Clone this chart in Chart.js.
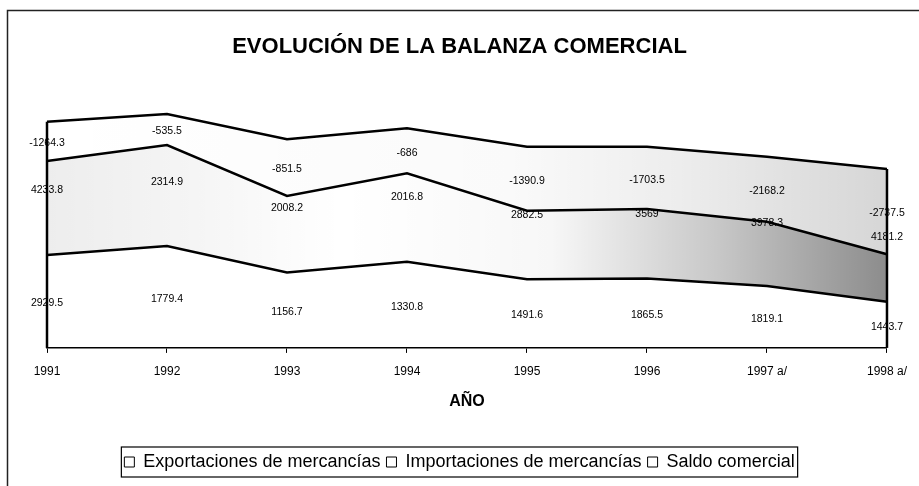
<!DOCTYPE html>
<html lang="es">
<head>
<meta charset="utf-8">
<title>Evolución de la balanza comercial</title>
<script src="https://cdn.jsdelivr.net/npm/chart.js@4.4.1/dist/chart.umd.min.js"></script>
<style>
  html, body { margin: 0; padding: 0; background: #fff; }
  canvas { display: block; }
</style>
</head>
<body>
<canvas id="grafico" width="919" height="486"></canvas>
<script>
'use strict'

// años del eje horizontal
let anios = ['1991', '1992', '1993', '1994', '1995', '1996', '1997 a/', '1998 a/'];

// cifras impresas sobre el grafico
let exportaciones = [2929.5, 1779.4, 1156.7, 1330.8, 1491.6, 1865.5, 1819.1, 1443.7];
let importaciones = [4233.8, 2314.9, 2008.2, 2016.8, 2882.5, 3569, 3978.3, 4181.2];
let saldo = [-1264.3, -535.5, -851.5, -686, -1390.9, -1703.5, -2168.2, -2737.5];

// alto de cada area tal como esta dibujada (el dibujo no sigue la escala de las cifras)
let areaExport = [1860, 2040, 1510, 1725, 1375, 1390, 1240, 925];
let areaImport = [2665, 2640, 2665, 2670, 2650, 2635, 2585, 2655];
let areaSaldo = [-785, -620, -1135, -900, -1280, -1245, -1300, -1705];

const fuente = "'Liberation Sans', Arial, Helvetica, sans-serif";
Chart.defaults.font.family = fuente;
Chart.defaults.color = '#000';

function degradado(chart, paradas) {
    let area = chart.chartArea;
    if (!area) return 'rgba(0,0,0,0)';
    let g = chart.ctx.createLinearGradient(area.left, 0, area.right, 0);
    paradas.forEach(p => g.addColorStop(p[0], p[1]));
    return g;
}

// marco del documento escaneado
const marco = {
    id: 'marco',
    beforeDraw(chart) {
        let c = chart.ctx;
        c.save();
        c.fillStyle = '#fff';
        c.fillRect(0, 0, chart.width, chart.height);
        c.strokeStyle = '#222';
        c.lineWidth = 1.5;
        c.beginPath();
        c.moveTo(7.5, chart.height);
        c.lineTo(7.5, 10.5);
        c.lineTo(chart.width, 10.5);
        c.stroke();
        c.restore();
    }
};

// etiquetas de datos, bordes laterales de las areas y recuadro de la leyenda
const etiquetas = {
    id: 'etiquetas',
    afterDatasetsDraw(chart) {
        let c = chart.ctx;
        let base = chart.scales.y.getPixelForValue(0);
        let pE = chart.getDatasetMeta(0).data;
        let pI = chart.getDatasetMeta(1).data;
        let pS = chart.getDatasetMeta(2).data;
        c.save();
        c.font = '10.5px ' + fuente;
        c.fillStyle = '#000';
        c.textAlign = 'center';
        c.textBaseline = 'middle';
        for (let i = 0; i < anios.length; i++) {
            let x = pE[i].x;
            c.fillText(String(exportaciones[i]), x, (base + pE[i].y) / 2 + 2);
            c.fillText(String(importaciones[i]), x, (pE[i].y + pI[i].y) / 2 + 2);
            c.fillText(String(saldo[i]), x, (pI[i].y + pS[i].y) / 2 + 2);
        }
        c.strokeStyle = '#000';
        c.lineWidth = 2.5;
        [0, anios.length - 1].forEach(i => {
            c.beginPath();
            c.moveTo(pI[i].x, pI[i].y);
            c.lineTo(pI[i].x, base);
            c.stroke();
        });
        c.restore();
    },
    afterDraw(chart) {
        let hb = chart.legend.legendHitBoxes;
        if (!hb || !hb.length) return;
        let c = chart.ctx;
        let ult = hb[hb.length - 1];
        let izq = hb[0].left - 3;
        let der = ult.left + ult.width + 3;
        let arriba = hb[0].top - 6;
        let abajo = hb[0].top + hb[0].height + 6;
        c.save();
        c.strokeStyle = '#000';
        c.lineWidth = 1.2;
        c.strokeRect(izq, arriba, der - izq, abajo - arriba);
        c.restore();
    }
};

new Chart(document.getElementById('grafico'), {
    type: 'line',
    data: {
        labels: anios,
        datasets: [{
            label: 'Exportaciones de mercancías',
            data: areaExport,
            fill: 2,
            backgroundColor: ctx => degradado(ctx.chart, [
                [0, 'rgba(0,0,0,0.07)'], [0.18, 'rgba(0,0,0,0.04)'], [0.35, 'rgba(0,0,0,0)'],
                [0.6, 'rgba(0,0,0,0.03)'], [0.8, 'rgba(0,0,0,0.22)'], [1, 'rgba(0,0,0,0.45)']
            ]),
            borderColor: '#000',
            borderWidth: 2.5
        }, {
            label: 'Importaciones de mercancías',
            data: areaImport,
            fill: false,
            backgroundColor: '#fff',
            borderColor: '#000',
            borderWidth: 2.5
        }, {
            label: 'Saldo comercial',
            data: areaSaldo,
            fill: '-1',
            backgroundColor: ctx => degradado(ctx.chart, [
                [0, 'rgba(0,0,0,0)'], [0.55, 'rgba(0,0,0,0.02)'], [0.75, 'rgba(0,0,0,0.07)'], [1, 'rgba(0,0,0,0.16)']
            ]),
            borderColor: '#000',
            borderWidth: 2.5
        }]
    },
    options: {
        responsive: false,
        animation: false,
        events: [],
        layout: { padding: { left: 0, right: 0, top: 0, bottom: 5 } },
        elements: { point: { radius: 0 }, line: { tension: 0 } },
        scales: {
            x: {
                offset: false,
                grid: { drawOnChartArea: false, drawTicks: true, tickLength: 5, color: '#000', lineWidth: 1 },
                border: { display: true, color: '#000', width: 1.5 },
                ticks: { font: { size: 12 }, padding: 12, maxRotation: 0, autoSkip: false },
                title: { display: true, text: 'AÑO', font: { size: 16, weight: 'bold' }, padding: { top: 0.5, bottom: 36 } }
            },
            y: {
                stacked: 'single',
                min: 0,
                max: 5000,
                ticks: { display: false },
                grid: { display: false },
                border: { display: false },
                afterFit(s) { s.width = 47; }
            },
            yDer: {
                position: 'right',
                ticks: { display: false },
                grid: { display: false },
                border: { display: false },
                afterFit(s) { s.width = 31; }
            }
        },
        plugins: {
            tooltip: { enabled: false },
            title: {
                display: true,
                text: 'EVOLUCIÓN DE LA BALANZA COMERCIAL',
                font: { size: 22, weight: 'bold' },
                padding: { top: 33.3, bottom: 38.3 }
            },
            legend: {
                position: 'bottom',
                labels: {
                    font: { size: 18 },
                    boxWidth: 10,
                    boxHeight: 10,
                    padding: 6,
                    generateLabels(chart) {
                        let items = Chart.defaults.plugins.legend.labels.generateLabels(chart);
                        items.forEach(it => {
                            it.fillStyle = '#fff';
                            it.strokeStyle = '#000';
                            it.lineWidth = 1;
                        });
                        return items;
                    }
                }
            }
        }
    },
    plugins: [marco, etiquetas]
});
</script>
</body>
</html>
